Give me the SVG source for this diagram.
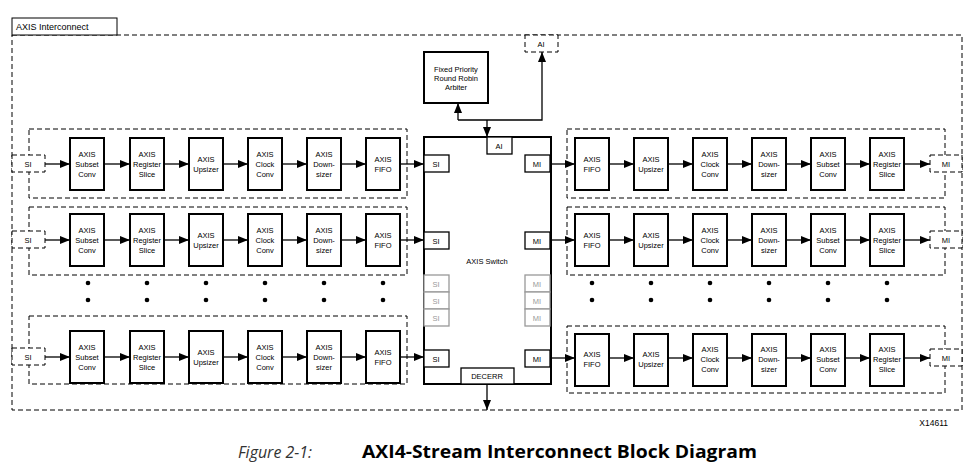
<svg xmlns="http://www.w3.org/2000/svg" width="968" height="466" viewBox="0 0 968 466">
<style>
.b{fill:#fff;stroke:#000;stroke-width:2}
.d{fill:none;stroke:#000;stroke-width:1;stroke-dasharray:5,3}
.dp{fill:#fff;stroke:#000;stroke-width:1;stroke-dasharray:5,3}
.p{fill:#fff;stroke:#000;stroke-width:1.3}
.g{fill:#fff;stroke:#999;stroke-width:1.3}
text{font-family:"Liberation Sans",Arial,sans-serif;font-size:7.5px;text-anchor:middle;fill:#000}
.gt{fill:#999}
.c line,.c path{stroke:#000;stroke-width:1.3;fill:none}
</style>
<defs>
<marker id="a" markerWidth="10" markerHeight="8" refX="10" refY="4" orient="auto" markerUnits="userSpaceOnUse"><path d="M0,0L10,4L0,8z" fill="#000"/></marker>
<g id="dots"><circle cx="0" cy="0" r="2.3"/><circle cx="0" cy="17" r="2.3"/></g>
</defs>
<rect x="0" y="0" width="968" height="466" fill="#fff"/>
<g id="outer"><rect x="12" y="35" width="950" height="375" class="d"/><rect x="12" y="18" width="105" height="17" fill="#fff" stroke="#000"/><text x="16" y="30" style="text-anchor:start;font-size:9px">AXIS Interconnect</text></g>
<g id="arbiter"><rect x="424" y="52" width="64" height="51" class="b"/><text x="456" y="72">Fixed Priority</text><text x="456" y="81">Round Robin</text><text x="456" y="90">Arbiter</text></g>
<g id="ai-top"><rect x="525" y="35" width="33" height="17" class="dp"/><text x="541" y="47">AI</text></g>
<g id="switch"><rect x="424" y="137" width="127" height="247" class="b"/><text x="487" y="264">AXIS Switch</text>
<rect x="487" y="137" width="25" height="17" class="p"/><text x="499" y="149">AI</text>
<rect x="424" y="155" width="25" height="17" class="p"/><text x="436" y="167">SI</text>
<rect x="424" y="232" width="25" height="17" class="p"/><text x="436" y="244">SI</text>
<rect x="424" y="350" width="25" height="17" class="p"/><text x="436" y="362">SI</text>
<rect x="424" y="275" width="25" height="17" class="g"/><text x="436" y="287" class="gt">SI</text>
<rect x="424" y="292" width="25" height="17" class="g"/><text x="436" y="304" class="gt">SI</text>
<rect x="424" y="309" width="25" height="17" class="g"/><text x="436" y="321" class="gt">SI</text>
<rect x="525" y="155" width="25" height="17" class="p"/><text x="537" y="167">MI</text>
<rect x="525" y="232" width="25" height="17" class="p"/><text x="537" y="244">MI</text>
<rect x="525" y="350" width="25" height="17" class="p"/><text x="537" y="362">MI</text>
<rect x="525" y="275" width="25" height="17" class="g"/><text x="537" y="287" class="gt">MI</text>
<rect x="525" y="292" width="25" height="17" class="g"/><text x="537" y="304" class="gt">MI</text>
<rect x="525" y="309" width="25" height="17" class="g"/><text x="537" y="321" class="gt">MI</text>
<rect x="461" y="368" width="53" height="16" class="p"/><text x="487" y="379">DECERR</text></g>

<g id="left-rows">
<g id="left-row1" transform="translate(0,164)">
<rect x="29" y="-35" width="378" height="69" class="d"/>
<rect x="12" y="-9" width="33" height="17" class="dp"/><text x="28" y="3">SI</text>
<g id="l1-subset"><rect x="70" y="-26" width="34" height="52" class="b"/><text x="87" y="-7">AXIS</text><text x="87" y="3">Subset</text><text x="87" y="13">Conv</text></g>
<g id="l1-reg"><rect x="130" y="-26" width="34" height="52" class="b"/><text x="147" y="-7">AXIS</text><text x="147" y="3">Register</text><text x="147" y="13">Slice</text></g>
<g id="l1-up"><rect x="189" y="-26" width="34" height="52" class="b"/><text x="206" y="-2">AXIS</text><text x="206" y="8">Upsizer</text></g>
<g id="l1-clk"><rect x="248" y="-26" width="34" height="52" class="b"/><text x="265" y="-7">AXIS</text><text x="265" y="3">Clock</text><text x="265" y="13">Conv</text></g>
<g id="l1-down"><rect x="307" y="-26" width="34" height="52" class="b"/><text x="324" y="-7">AXIS</text><text x="324" y="3">Down-</text><text x="324" y="13">sizer</text></g>
<g id="l1-fifo"><rect x="366" y="-26" width="34" height="52" class="b"/><text x="383" y="-2">AXIS</text><text x="383" y="8">FIFO</text></g>
</g>
<g id="left-row2" transform="translate(0,240)">
<rect x="29" y="-33" width="378" height="68" class="d"/>
<rect x="12" y="-9" width="33" height="17" class="dp"/><text x="28" y="3">SI</text>
<g id="l2-subset"><rect x="70" y="-26" width="34" height="52" class="b"/><text x="87" y="-7">AXIS</text><text x="87" y="3">Subset</text><text x="87" y="13">Conv</text></g>
<g id="l2-reg"><rect x="130" y="-26" width="34" height="52" class="b"/><text x="147" y="-7">AXIS</text><text x="147" y="3">Register</text><text x="147" y="13">Slice</text></g>
<g id="l2-up"><rect x="189" y="-26" width="34" height="52" class="b"/><text x="206" y="-2">AXIS</text><text x="206" y="8">Upsizer</text></g>
<g id="l2-clk"><rect x="248" y="-26" width="34" height="52" class="b"/><text x="265" y="-7">AXIS</text><text x="265" y="3">Clock</text><text x="265" y="13">Conv</text></g>
<g id="l2-down"><rect x="307" y="-26" width="34" height="52" class="b"/><text x="324" y="-7">AXIS</text><text x="324" y="3">Down-</text><text x="324" y="13">sizer</text></g>
<g id="l2-fifo"><rect x="366" y="-26" width="34" height="52" class="b"/><text x="383" y="-2">AXIS</text><text x="383" y="8">FIFO</text></g>
</g>
<g id="left-row3" transform="translate(0,357)">
<rect x="29" y="-41" width="378" height="68" class="d"/>
<rect x="12" y="-9" width="33" height="17" class="dp"/><text x="28" y="3">SI</text>
<g id="l3-subset"><rect x="70" y="-26" width="34" height="52" class="b"/><text x="87" y="-7">AXIS</text><text x="87" y="3">Subset</text><text x="87" y="13">Conv</text></g>
<g id="l3-reg"><rect x="130" y="-26" width="34" height="52" class="b"/><text x="147" y="-7">AXIS</text><text x="147" y="3">Register</text><text x="147" y="13">Slice</text></g>
<g id="l3-up"><rect x="189" y="-26" width="34" height="52" class="b"/><text x="206" y="-2">AXIS</text><text x="206" y="8">Upsizer</text></g>
<g id="l3-clk"><rect x="248" y="-26" width="34" height="52" class="b"/><text x="265" y="-7">AXIS</text><text x="265" y="3">Clock</text><text x="265" y="13">Conv</text></g>
<g id="l3-down"><rect x="307" y="-26" width="34" height="52" class="b"/><text x="324" y="-7">AXIS</text><text x="324" y="3">Down-</text><text x="324" y="13">sizer</text></g>
<g id="l3-fifo"><rect x="366" y="-26" width="34" height="52" class="b"/><text x="383" y="-2">AXIS</text><text x="383" y="8">FIFO</text></g>
</g>
</g>

<g id="right-rows">
<g id="right-row1" transform="translate(0,164)">
<rect x="567" y="-35" width="378" height="69" class="d"/>
<rect x="930" y="-9" width="32" height="17" class="dp"/><text x="946" y="3">MI</text>
<g id="r1-fifo"><rect x="575" y="-26" width="34" height="52" class="b"/><text x="592" y="-2">AXIS</text><text x="592" y="8">FIFO</text></g>
<g id="r1-up"><rect x="634" y="-26" width="34" height="52" class="b"/><text x="651" y="-2">AXIS</text><text x="651" y="8">Upsizer</text></g>
<g id="r1-clk"><rect x="693" y="-26" width="34" height="52" class="b"/><text x="710" y="-7">AXIS</text><text x="710" y="3">Clock</text><text x="710" y="13">Conv</text></g>
<g id="r1-down"><rect x="752" y="-26" width="34" height="52" class="b"/><text x="769" y="-7">AXIS</text><text x="769" y="3">Down-</text><text x="769" y="13">sizer</text></g>
<g id="r1-subset"><rect x="811" y="-26" width="34" height="52" class="b"/><text x="828" y="-7">AXIS</text><text x="828" y="3">Subset</text><text x="828" y="13">Conv</text></g>
<g id="r1-reg"><rect x="870" y="-26" width="34" height="52" class="b"/><text x="887" y="-7">AXIS</text><text x="887" y="3">Register</text><text x="887" y="13">Slice</text></g>
</g>
<g id="right-row2" transform="translate(0,240)">
<rect x="567" y="-33" width="378" height="68" class="d"/>
<rect x="930" y="-9" width="32" height="17" class="dp"/><text x="946" y="3">MI</text>
<g id="r2-fifo"><rect x="575" y="-26" width="34" height="52" class="b"/><text x="592" y="-2">AXIS</text><text x="592" y="8">FIFO</text></g>
<g id="r2-up"><rect x="634" y="-26" width="34" height="52" class="b"/><text x="651" y="-2">AXIS</text><text x="651" y="8">Upsizer</text></g>
<g id="r2-clk"><rect x="693" y="-26" width="34" height="52" class="b"/><text x="710" y="-7">AXIS</text><text x="710" y="3">Clock</text><text x="710" y="13">Conv</text></g>
<g id="r2-down"><rect x="752" y="-26" width="34" height="52" class="b"/><text x="769" y="-7">AXIS</text><text x="769" y="3">Down-</text><text x="769" y="13">sizer</text></g>
<g id="r2-subset"><rect x="811" y="-26" width="34" height="52" class="b"/><text x="828" y="-7">AXIS</text><text x="828" y="3">Subset</text><text x="828" y="13">Conv</text></g>
<g id="r2-reg"><rect x="870" y="-26" width="34" height="52" class="b"/><text x="887" y="-7">AXIS</text><text x="887" y="3">Register</text><text x="887" y="13">Slice</text></g>
</g>
<g id="right-row3" transform="translate(0,358)">
<rect x="567" y="-32" width="378" height="67" class="d"/>
<rect x="930" y="-9" width="32" height="17" class="dp"/><text x="946" y="3">MI</text>
<g id="r3-fifo"><rect x="575" y="-24" width="34" height="52" class="b"/><text x="592" y="-1">AXIS</text><text x="592" y="9">FIFO</text></g>
<g id="r3-up"><rect x="634" y="-24" width="34" height="52" class="b"/><text x="651" y="-1">AXIS</text><text x="651" y="9">Upsizer</text></g>
<g id="r3-clk"><rect x="693" y="-24" width="34" height="52" class="b"/><text x="710" y="-6">AXIS</text><text x="710" y="4">Clock</text><text x="710" y="14">Conv</text></g>
<g id="r3-down"><rect x="752" y="-24" width="34" height="52" class="b"/><text x="769" y="-6">AXIS</text><text x="769" y="4">Down-</text><text x="769" y="14">sizer</text></g>
<g id="r3-subset"><rect x="811" y="-24" width="34" height="52" class="b"/><text x="828" y="-6">AXIS</text><text x="828" y="4">Subset</text><text x="828" y="14">Conv</text></g>
<g id="r3-reg"><rect x="870" y="-24" width="34" height="52" class="b"/><text x="887" y="-6">AXIS</text><text x="887" y="4">Register</text><text x="887" y="14">Slice</text></g>
</g>
</g>

<g id="dots-all">
<use href="#dots" x="88" y="283"/><use href="#dots" x="147" y="283"/><use href="#dots" x="206" y="283"/><use href="#dots" x="265" y="283"/><use href="#dots" x="324" y="283"/><use href="#dots" x="383" y="283"/>
<use href="#dots" x="592" y="283"/><use href="#dots" x="651" y="283"/><use href="#dots" x="710" y="283"/><use href="#dots" x="769" y="283"/><use href="#dots" x="828" y="283"/><use href="#dots" x="887" y="283"/>
</g>

<g id="connectors" class="c">
<g transform="translate(0,164)">
<line x1="45" y1="0" x2="70" y2="0" marker-end="url(#a)"/><line x1="104" y1="0" x2="130" y2="0" marker-end="url(#a)"/><line x1="164" y1="0" x2="189" y2="0" marker-end="url(#a)"/><line x1="223" y1="0" x2="248" y2="0" marker-end="url(#a)"/><line x1="282" y1="0" x2="307" y2="0" marker-end="url(#a)"/><line x1="341" y1="0" x2="366" y2="0" marker-end="url(#a)"/><line x1="400" y1="0" x2="424" y2="0" marker-end="url(#a)"/>
<line x1="550" y1="0" x2="575" y2="0" marker-end="url(#a)"/><line x1="609" y1="0" x2="634" y2="0" marker-end="url(#a)"/><line x1="668" y1="0" x2="693" y2="0" marker-end="url(#a)"/><line x1="727" y1="0" x2="752" y2="0" marker-end="url(#a)"/><line x1="786" y1="0" x2="811" y2="0" marker-end="url(#a)"/><line x1="845" y1="0" x2="870" y2="0" marker-end="url(#a)"/><line x1="904" y1="0" x2="930" y2="0" marker-end="url(#a)"/>
</g>
<g transform="translate(0,240)">
<line x1="45" y1="0" x2="70" y2="0" marker-end="url(#a)"/><line x1="104" y1="0" x2="130" y2="0" marker-end="url(#a)"/><line x1="164" y1="0" x2="189" y2="0" marker-end="url(#a)"/><line x1="223" y1="0" x2="248" y2="0" marker-end="url(#a)"/><line x1="282" y1="0" x2="307" y2="0" marker-end="url(#a)"/><line x1="341" y1="0" x2="366" y2="0" marker-end="url(#a)"/><line x1="400" y1="0" x2="424" y2="0" marker-end="url(#a)"/>
<line x1="550" y1="0" x2="575" y2="0" marker-end="url(#a)"/><line x1="609" y1="0" x2="634" y2="0" marker-end="url(#a)"/><line x1="668" y1="0" x2="693" y2="0" marker-end="url(#a)"/><line x1="727" y1="0" x2="752" y2="0" marker-end="url(#a)"/><line x1="786" y1="0" x2="811" y2="0" marker-end="url(#a)"/><line x1="845" y1="0" x2="870" y2="0" marker-end="url(#a)"/><line x1="904" y1="0" x2="930" y2="0" marker-end="url(#a)"/>
</g>
<g transform="translate(0,357)">
<line x1="45" y1="0" x2="70" y2="0" marker-end="url(#a)"/><line x1="104" y1="0" x2="130" y2="0" marker-end="url(#a)"/><line x1="164" y1="0" x2="189" y2="0" marker-end="url(#a)"/><line x1="223" y1="0" x2="248" y2="0" marker-end="url(#a)"/><line x1="282" y1="0" x2="307" y2="0" marker-end="url(#a)"/><line x1="341" y1="0" x2="366" y2="0" marker-end="url(#a)"/><line x1="400" y1="0" x2="424" y2="0" marker-end="url(#a)"/>
</g>
<g transform="translate(0,358)">
<line x1="550" y1="0" x2="575" y2="0" marker-end="url(#a)"/><line x1="609" y1="0" x2="634" y2="0" marker-end="url(#a)"/><line x1="668" y1="0" x2="693" y2="0" marker-end="url(#a)"/><line x1="727" y1="0" x2="752" y2="0" marker-end="url(#a)"/><line x1="786" y1="0" x2="811" y2="0" marker-end="url(#a)"/><line x1="845" y1="0" x2="870" y2="0" marker-end="url(#a)"/><line x1="904" y1="0" x2="930" y2="0" marker-end="url(#a)"/>
</g>
<path d="M458,120H542V52" marker-end="url(#a)"/>
<line x1="458" y1="120" x2="458" y2="103" marker-end="url(#a)"/>
<line x1="487" y1="120" x2="487" y2="137" marker-end="url(#a)"/>
<line x1="487" y1="384" x2="487" y2="410" marker-end="url(#a)"/>
</g>

<text x="948" y="426" style="text-anchor:end;font-size:8.5px">X14611</text>
<text x="238" y="458" textLength="74" lengthAdjust="spacingAndGlyphs" style="text-anchor:start;font-family:'Open Sans','Liberation Sans',sans-serif;font-size:17px;font-style:italic;fill:#333">Figure 2-1:</text>
<text x="362" y="458" textLength="395" lengthAdjust="spacingAndGlyphs" style="text-anchor:start;font-family:'Open Sans','Liberation Sans',sans-serif;font-size:17px;font-weight:bold">AXI4-Stream Interconnect Block Diagram</text>
</svg>
